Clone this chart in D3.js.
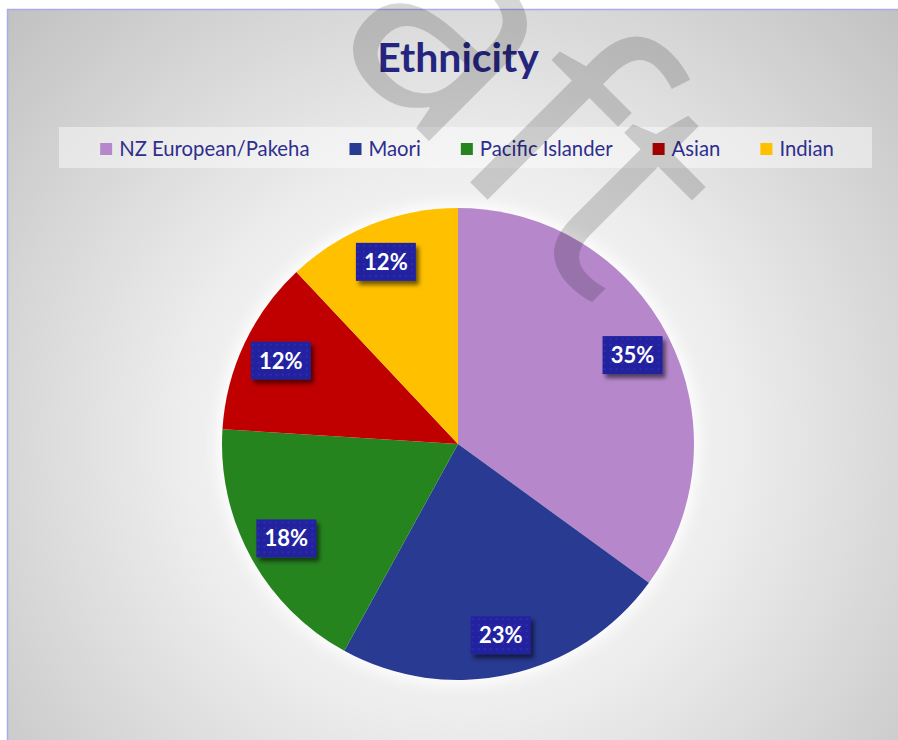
<!DOCTYPE html>
<html>
<head>
<meta charset="utf-8">
<script src="https://cdn.jsdelivr.net/npm/d3@7/dist/d3.min.js"></script>
<style>
  html, body { margin: 0; padding: 0; background: #ffffff; }
  svg { display: block; }
</style>
</head>
<body>
<svg id="chart" width="898" height="740"></svg>
<script>
// Ethnicity breakdown (percent of respondents)
const categories = ["NZ European/Pakeha", "Maori", "Pacific Islander", "Asian", "Indian"];
const shares = [35, 23, 18, 12, 12];
const sliceColors = ["#B688CB", "#283A91", "#26841F", "#C00000", "#FFC000"];
const chartTitle = "Ethnicity";
const watermarkText = "Draft";

const W = 898, H = 740;
const svg = d3.select("#chart");
const defs = svg.append("defs");

// Background: radial wash, bright behind the pie, grey toward the corners
const bg = defs.append("radialGradient")
  .attr("id", "bgGrad").attr("gradientUnits", "userSpaceOnUse")
  .attr("cx", 458).attr("cy", 440).attr("r", 640);
bg.append("stop").attr("offset", 0).attr("stop-color", "#ffffff");
bg.append("stop").attr("offset", 0.42).attr("stop-color", "#eeeeee");
bg.append("stop").attr("offset", 1).attr("stop-color", "#bfbfbf");

// Soft white halo around the pie
const glow = defs.append("filter").attr("id", "glow")
  .attr("x", "-20%").attr("y", "-20%").attr("width", "140%").attr("height", "140%");
glow.append("feGaussianBlur").attr("stdDeviation", 7);

// Drop shadow for the value badges
const shadow = defs.append("filter").attr("id", "badgeShadow")
  .attr("x", "-30%").attr("y", "-30%").attr("width", "160%").attr("height", "170%");
shadow.append("feDropShadow").attr("dx", 3).attr("dy", 4)
  .attr("stdDeviation", 2.2).attr("flood-color", "#000").attr("flood-opacity", 0.55);

// Dotted fill for the value badges
const dots = defs.append("pattern").attr("id", "badgeDots")
  .attr("patternUnits", "userSpaceOnUse").attr("width", 6).attr("height", 6);
dots.append("rect").attr("width", 6).attr("height", 6).attr("fill", "#2222A0");
dots.append("rect").attr("x", 1).attr("y", 1).attr("width", 2).attr("height", 2).attr("fill", "#2E2EAA");

// Chart area with frame
svg.append("rect").attr("x", 7.5).attr("y", 9.5).attr("width", W).attr("height", H)
  .attr("fill", "url(#bgGrad)").attr("stroke", "#AAAAEE").attr("stroke-width", 1.5);

// Title
svg.append("text")
  .attr("x", 458).attr("y", 72)
  .attr("text-anchor", "middle")
  .attr("font-family", "Lato, 'Open Sans', sans-serif")
  .attr("font-weight", "bold")
  .attr("font-size", 41)
  .attr("fill", "#25257F")
  .text(chartTitle);

// Legend
const legendBox = { x: 59, y: 127, w: 813, h: 41 };
svg.append("rect")
  .attr("x", legendBox.x).attr("y", legendBox.y)
  .attr("width", legendBox.w).attr("height", legendBox.h)
  .attr("fill", "#ffffff").attr("fill-opacity", 0.45);

const legend = svg.append("g");
const items = legend.selectAll("g").data(categories).join("g");
items.append("rect")
  .attr("y", 143).attr("width", 12).attr("height", 12)
  .attr("fill", (d, i) => sliceColors[i]);
items.append("text")
  .attr("x", 19).attr("y", 156)
  .attr("font-family", "Lato, 'Open Sans', sans-serif")
  .attr("font-size", 20.3)
  .attr("fill", "#2E2E8E")
  .text(d => d);

// Lay out legend entries in a centred row
const gap = 40;
let cursor = 0;
const offsets = [];
items.each(function () {
  offsets.push(cursor);
  const tw = d3.select(this).select("text").node().getComputedTextLength();
  cursor += 19 + tw + gap;
});
const rowWidth = cursor - gap;
const rowStart = 467 - rowWidth / 2;
items.attr("transform", (d, i) => `translate(${rowStart + offsets[i]},0)`);

// Pie
const cx = 458, cy = 444, radius = 236;
const pie = d3.pie().sort(null).value(d => d);
const arcs = pie(shares);
const arc = d3.arc().innerRadius(0).outerRadius(radius);
const labelArc = d3.arc().innerRadius(radius * 0.83).outerRadius(radius * 0.83);

const pieG = svg.append("g").attr("transform", `translate(${cx},${cy})`);
pieG.append("circle").attr("r", radius + 5)
  .attr("fill", "#ffffff").attr("opacity", 0.9).attr("filter", "url(#glow)");
pieG.selectAll("path.slice").data(arcs).join("path")
  .attr("class", "slice")
  .attr("d", arc)
  .attr("fill", (d, i) => sliceColors[i]);

// Value badges
const badgeW = 60, badgeH = 38;
const badges = pieG.selectAll("g.badge").data(arcs).join("g")
  .attr("class", "badge")
  .attr("transform", d => {
    const [x, y] = labelArc.centroid(d);
    return `translate(${x},${y})`;
  });
badges.append("rect")
  .attr("x", -badgeW / 2).attr("y", -badgeH / 2)
  .attr("width", badgeW).attr("height", badgeH)
  .attr("fill", "url(#badgeDots)")
  .attr("filter", "url(#badgeShadow)");
badges.append("text")
  .attr("text-anchor", "middle")
  .attr("y", 8)
  .attr("font-family", "Lato, 'Open Sans', sans-serif")
  .attr("font-weight", "bold")
  .attr("font-size", 22)
  .attr("fill", "#ffffff")
  .text(d => d.data + "%");

// Page watermark, laid diagonally across the chart
svg.append("text")
  .attr("transform", "translate(596,308) rotate(45)")
  .attr("text-anchor", "end")
  .attr("font-family", "'Open Sans', Lato, sans-serif")
  .attr("font-size", 305)
  .attr("fill", "#000000")
  .attr("fill-opacity", 0.16)
  .text(watermarkText);
</script>
</body>
</html>
